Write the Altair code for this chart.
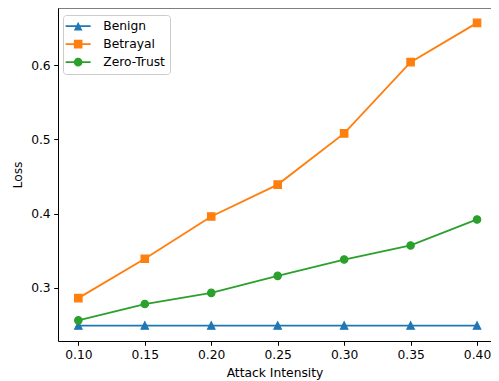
import altair as alt
import pandas as pd

# ---- data ----
attack = [0.10, 0.15, 0.20, 0.25, 0.30, 0.35, 0.40]
benign = [0.249, 0.249, 0.249, 0.249, 0.249, 0.249, 0.249]
betrayal = [0.286, 0.339, 0.396, 0.439, 0.508, 0.604, 0.657]
zero_trust = [0.256, 0.278, 0.293, 0.316, 0.338, 0.357, 0.392]

series_names = ["Benign", "Betrayal", "Zero-Trust"]
series_values = [benign, betrayal, zero_trust]
colors = ["#1f77b4", "#ff7f0e", "#2ca02c"]

x_ticks = [0.10, 0.15, 0.20, 0.25, 0.30, 0.35, 0.40]
y_ticks = [0.3, 0.4, 0.5, 0.6]

rows = []
for name, vals in zip(series_names, series_values):
    for a, v in zip(attack, vals):
        rows.append({"series": name, "attack": a, "loss": v})
df = pd.DataFrame(rows)

# marker shapes (unit paths, matplotlib-like)
TRI = "M0,-1L1,1L-1,1Z"
point_shapes = [TRI, "square", "circle"]
MS = 55  # marker area

# legend symbols: line + marker
k = 1.16
line_part = "M-3.37,-0.25H3.37V0.25H-3.37Z"
leg_tri = f"M0,-{k}L{k},{k}L-{k},{k}Z"
leg_sq = f"M-{k},-{k}H{k}V{k}H-{k}Z"
leg_circ = f"M-{k},0A{k},{k} 0 1,1 {k},0A{k},{k} 0 1,1 -{k},0Z"
legend_paths = [line_part + leg_tri, line_part + leg_sq, line_part + leg_circ]

W, H = 433, 333
x_scale = alt.Scale(domain=[0.0847, 0.4105], nice=False, zero=False)
y_scale = alt.Scale(domain=[0.2282, 0.677], nice=False, zero=False)

x_enc = alt.X("attack:Q", scale=x_scale,
              axis=alt.Axis(values=x_ticks, format=".2f", title="Attack Intensity",
                            labelPadding=3.5, titlePadding=5))
y_enc = alt.Y("loss:Q", scale=y_scale,
              axis=alt.Axis(values=y_ticks, format=".1f", title="Loss"))

layers = []
for name, col, shp in zip(series_names, colors, point_shapes):
    base = alt.Chart(df).transform_filter(alt.datum.series == name)
    layers.append(base.mark_line(color=col, strokeWidth=1.85).encode(x=x_enc, y=y_enc))
    layers.append(base.mark_point(shape=shp, filled=True, size=MS, color=col, stroke=col,
                                  strokeWidth=1.2, opacity=1).encode(x=x_enc, y=y_enc))

legend_layer = alt.Chart(df).transform_filter("false").mark_point(filled=True, opacity=1).encode(
    x=x_enc, y=y_enc,
    color=alt.Color("series:N", scale=alt.Scale(domain=series_names, range=colors),
                    legend=alt.Legend(title=None, orient="none", legendX=5, legendY=7,
                                      fillColor="rgba(255,255,255,0.8)", strokeColor="#cccccc",
                                      cornerRadius=3, padding=5, symbolSize=MS,
                                      symbolStrokeWidth=0, symbolOffset=4, labelOffset=19,
                                      rowPadding=5, labelFont="DejaVu Sans", labelFontSize=12.3,
                                      labelColor="black", symbolOpacity=1)),
    shape=alt.Shape("series:N", scale=alt.Scale(domain=series_names, range=legend_paths)),
)

top_frame = alt.Chart(alt.Data(values=[{}])).mark_rule(color="black", strokeWidth=1).encode(
    x=alt.value(0), x2=alt.value(W), y=alt.value(0))

chart = alt.layer(*layers, legend_layer, top_frame).properties(
    width=W, height=H,
    autosize=alt.AutoSizeParams(type="none"),
    padding={"left": 50, "top": 0, "right": 0, "bottom": 39},
    background="white",
).configure_view(stroke=None).configure_axis(
    grid=False, domainColor="black", domainWidth=1, tickColor="black", tickWidth=1,
    tickSize=4.3, labelPadding=3.5, labelColor="black", labelFont="DejaVu Sans",
    labelFontSize=12.3, titleFont="DejaVu Sans", titleFontSize=12.3,
    titleFontWeight="normal", titleColor="black",
).configure_axisY(titlePadding=6)

chart.save("out.html", embed_options={"renderer": "svg", "actions": False})
